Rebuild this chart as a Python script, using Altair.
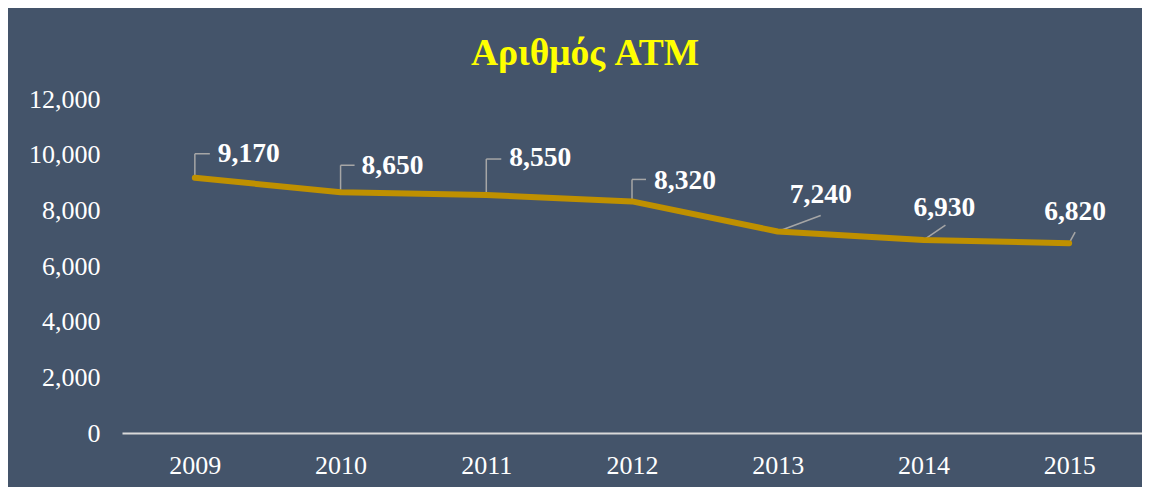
import altair as alt
import pandas as pd

# ---- data ----
years = [2009, 2010, 2011, 2012, 2013, 2014, 2015]
atm_counts = [9170, 8650, 8550, 8320, 7240, 6930, 6820]
title_text = "Αριθμός ATM"
y_ticks = [0, 2000, 4000, 6000, 8000, 10000, 12000]

# ---- label / leader styling (pixel offsets from each point) ----
leader_kind = ["elbow", "elbow", "elbow", "elbow", "diag", "diag", "diag"]
leader_rise_px = [24, 27, 36, 22, 16, 15, 11]
leader_run_px = [15, 14, 15, 14, 43, 22, 6]
label_dx_px = [23, 21, 23, 22, 43, 21, 6]
label_dy_px = [-24, -26, -37, -20, -36, -32, -31]

BG = "#44546A"
LINE = "#BF9000"
LEADER = "#A6A6A6"
FONT = "Liberation Serif"

PLOT_W = 1020
PLOT_H = 334
X_DOMAIN = [2008.5, 2015.5]
Y_DOMAIN = [0, 12000]
px_per_year = PLOT_W / (X_DOMAIN[1] - X_DOMAIN[0])
units_per_px = (Y_DOMAIN[1] - Y_DOMAIN[0]) / PLOT_H

df = pd.DataFrame({"year": years, "atm": atm_counts})

# leader segments
segs = []
lab_elbow = []
lab_diag = []
for yr, v, kind, rise, run, ldx, ldy in zip(years, atm_counts, leader_kind,
                                            leader_rise_px, leader_run_px,
                                            label_dx_px, label_dy_px):
    if kind == "elbow":
        top = v + rise * units_per_px
        segs.append({"x": yr, "y": v, "x2": yr, "y2": top})
        segs.append({"x": yr, "y": top, "x2": yr + run / px_per_year, "y2": top})
        lab_elbow.append({"x": yr + ldx / px_per_year, "y": v - ldy * units_per_px, "atm": v})
    else:
        segs.append({"x": yr, "y": v, "x2": yr + run / px_per_year,
                     "y2": v + rise * units_per_px})
        lab_diag.append({"x": yr + ldx / px_per_year, "y": v - ldy * units_per_px, "atm": v})

seg_df = pd.DataFrame(segs)
lab_elbow_df = pd.DataFrame(lab_elbow)
lab_diag_df = pd.DataFrame(lab_diag)

x_scale = alt.Scale(domain=X_DOMAIN, nice=False, zero=False)
y_scale = alt.Scale(domain=Y_DOMAIN, nice=False)

x_axis = alt.Axis(values=years, format="d", title=None, grid=False, ticks=False,
                  domain=True, domainColor="#D9D9D9", domainWidth=2,
                  labelFont=FONT, labelFontSize=26, labelColor="white",
                  labelPadding=19)
y_axis = alt.Axis(values=y_ticks, format=",.0f", title=None, grid=False, ticks=False,
                  domain=False, labelFont=FONT, labelFontSize=26,
                  labelColor="white", labelPadding=22)

line = alt.Chart(df).mark_line(color=LINE, strokeWidth=6, strokeCap="round",
                               strokeJoin="round").encode(
    x=alt.X("year:Q", scale=x_scale, axis=x_axis),
    y=alt.Y("atm:Q", scale=y_scale, axis=y_axis),
)

leaders = alt.Chart(seg_df).mark_rule(color=LEADER, strokeWidth=1.5).encode(
    x=alt.X("x:Q", scale=x_scale),
    y=alt.Y("y:Q", scale=y_scale),
    x2="x2:Q",
    y2="y2:Q",
)

text_props = dict(font=FONT, fontSize=27.5, fontWeight="bold", color="white",
                  baseline="middle")

labels_elbow = alt.Chart(lab_elbow_df).mark_text(align="left", **text_props).encode(
    x=alt.X("x:Q", scale=x_scale),
    y=alt.Y("y:Q", scale=y_scale),
    text=alt.Text("atm:Q", format=",.0f"),
)
labels_diag = alt.Chart(lab_diag_df).mark_text(align="center", **text_props).encode(
    x=alt.X("x:Q", scale=x_scale),
    y=alt.Y("y:Q", scale=y_scale),
    text=alt.Text("atm:Q", format=",.0f"),
)

chart = alt.layer(leaders, line, labels_elbow, labels_diag).properties(
    width=PLOT_W,
    height=PLOT_H,
    autosize=alt.AutoSizeParams(type="none"),
    padding={"left": 114, "top": 91, "right": 0, "bottom": 54},
    background=BG,
    title=alt.TitleParams(title_text, font=FONT, fontSize=37.5, fontWeight="bold",
                          color="#FFFF00", anchor="middle", offset=14, dx=-47),
).configure_view(stroke=None)

chart.save("out.html", embed_options={"renderer": "svg", "actions": False})
